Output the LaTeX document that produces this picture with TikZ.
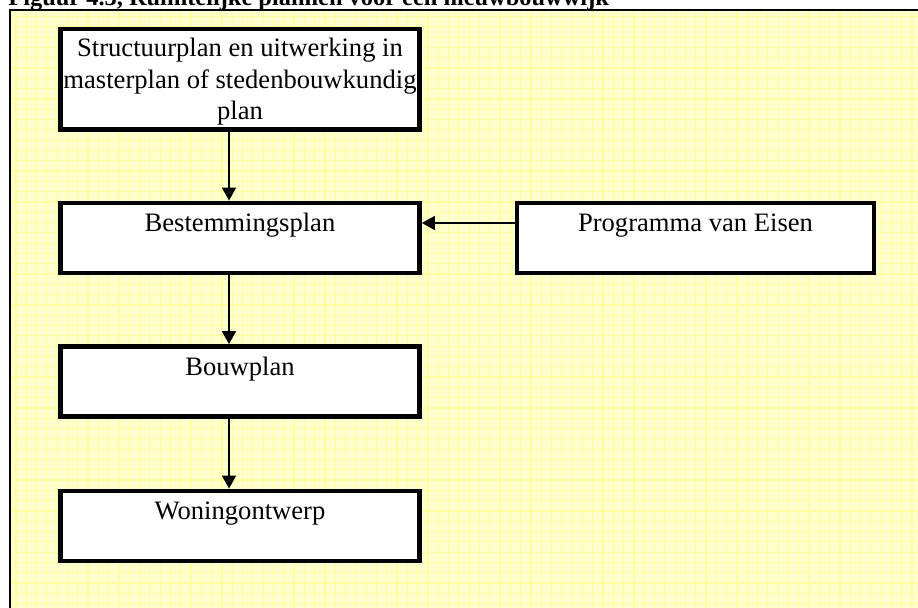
\documentclass[tikz,border=0pt]{standalone}
\usepackage{fontspec}
\setmainfont{Liberation Serif}
\usetikzlibrary{arrows.meta}
\definecolor{paper}{RGB}{255,255,206}
\definecolor{gridyellow}{RGB}{255,255,160}
\tikzset{
  gridline/.style={draw=gridyellow, line width=0.6pt},
  planbox/.style={draw=black, line width=2.4pt, fill=white, inner sep=0pt,
    minimum width=179.5pt, minimum height=35pt, align=center,
    font=\fontsize{13.3}{15.8}\selectfont},
  oneline/.style={text height=9pt, text depth=15pt},
  conn/.style={draw=black, line width=0.9pt, -{Triangle[length=6.5pt,width=7pt]}}
}
\begin{document}
\begin{tikzpicture}[x=0.5pt,y=-0.5pt]
\useasboundingbox (0,0) rectangle (918,608);
% squared paper background
\fill[paper] (10,10) rectangle (918,608);
\begin{scope}
  \clip (10,10) rectangle (918,608);
  \foreach \i in {0,...,88} \draw[gridline] ({15.9+10.3*\i},10) -- ++(0,600);
  \foreach \j in {0,...,58} \draw[gridline] (10,{16.6+10.3*\j}) -- ++(910,0);
\end{scope}
\draw[line width=1pt] (10,612) -- (10,10) -- (920,10);
% caption
\node[anchor=base west, inner sep=0pt, font=\bfseries\fontsize{12.2}{14}\selectfont] (title) at (8,6)
  {Figuur 4.3, Ruimtelijke plannen voor een nieuwbouwwijk};
% plan boxes
\node[planbox, minimum height=50.25pt] (b1) at (240,79.25) {};
\node[align=center, inner sep=0pt, font=\fontsize{13.3}{15.8}\selectfont] (b1text) at (240,82)
  {Structuurplan en uitwerking in\\masterplan of stedenbouwkundig\\plan};
\node[planbox, oneline] (b2) at (240,238) {Bestemmingsplan};
\node[planbox, oneline, minimum width=178.5pt] (prog) at (695.5,238) {Programma van Eisen};
\node[planbox, oneline] (b3) at (240,381.5) {Bouwplan};
\node[planbox, oneline] (b4) at (240,526) {Woningontwerp};
% connectors
\coordinate (ax) at (229,0);
\coordinate (ay) at (0,223);
\draw[conn] (b1.south -| ax) -- (b2.north -| ax);
\draw[conn] (b2.south -| ax) -- (b3.north -| ax);
\draw[conn] (b3.south -| ax) -- (b4.north -| ax);
\draw[conn] (prog.west |- ay) -- (b2.east |- ay);
\end{tikzpicture}
\end{document}
